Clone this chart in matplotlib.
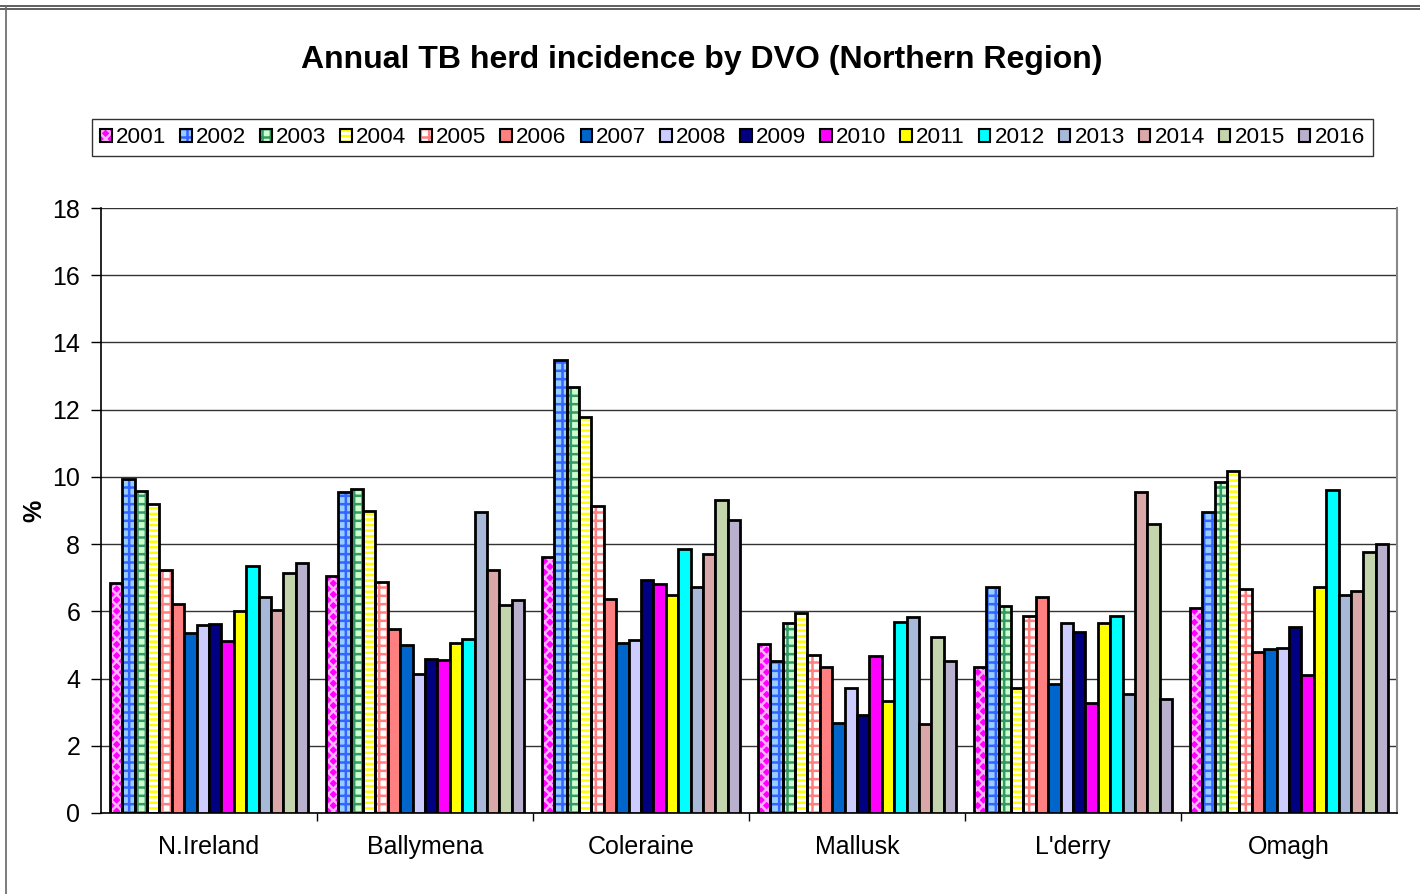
import matplotlib
matplotlib.use("Agg")
import matplotlib.pyplot as plt
from matplotlib.patches import Rectangle
from matplotlib.lines import Line2D
import numpy as np

plt.rcParams['font.family'] = ['Liberation Sans', 'DejaVu Sans']
plt.rcParams['hatch.linewidth'] = 1.8

# -------- data --------
regions = ["N.Ireland", "Ballymena", "Coleraine", "Mallusk", "L'derry", "Omagh"]
years = ["2001", "2002", "2003", "2004", "2005", "2006", "2007", "2008",
         "2009", "2010", "2011", "2012", "2013", "2014", "2015", "2016"]

# one list per region, values for 2001..2016
n_ireland = [6.84, 9.94, 9.58, 9.19, 7.23, 6.22, 5.36, 5.60, 5.62, 5.12, 6.01, 7.35, 6.43, 6.04, 7.14, 7.44]
ballymena = [7.05, 9.54, 9.64, 9.00, 6.86, 5.47, 4.99, 4.14, 4.58, 4.56, 5.05, 5.19, 8.95, 7.24, 6.20, 6.34]
coleraine = [7.61, 13.48, 12.68, 11.79, 9.13, 6.36, 5.06, 5.15, 6.93, 6.81, 6.50, 7.86, 6.71, 7.71, 9.31, 8.72]
mallusk = [5.03, 4.53, 5.64, 5.95, 4.69, 4.35, 2.68, 3.72, 2.91, 4.67, 3.34, 5.68, 5.84, 2.65, 5.25, 4.53]
lderry = [4.33, 6.73, 6.16, 3.72, 5.86, 6.44, 3.84, 5.66, 5.39, 3.28, 5.66, 5.86, 3.54, 9.55, 8.60, 3.40]
omagh = [6.11, 8.97, 9.84, 10.18, 6.67, 4.79, 4.89, 4.92, 5.54, 4.11, 6.72, 9.60, 6.50, 6.61, 7.77, 8.00]

values = np.array([n_ireland, ballymena, coleraine, mallusk, lderry, omagh])

# (face colour, hatch, hatch colour) per year
styles = [
    ('#ff00ff', 'xxx', '#ffb0ff'),
    ('#99ccff', '++', '#3366ff'),
    ('#ccffcc', '++', '#339966'),
    ('#ffffff', '---', '#ffff00'),
    ('#ffffff', '++', '#ff8080'),
    ('#ff8080', None, None),
    ('#0066cc', None, None),
    ('#ccccff', None, None),
    ('#000080', None, None),
    ('#ff00ff', None, None),
    ('#ffff00', None, None),
    ('#00ffff', None, None),
    ('#a8b8d8', None, None),
    ('#daa8a8', None, None),
    ('#c4d4ac', None, None),
    ('#b8b0cc', None, None),
]

fig = plt.figure(figsize=(14.2, 8.94), dpi=100)
ax = fig.add_axes([101 / 1420, 81 / 894, 1296 / 1420, 605 / 894])

x = np.arange(len(regions))
n = len(years)
width = 0.917 / n

handles = []
for i, yr in enumerate(years):
    pos = x - 0.917 / 2 + width * (i + 0.5)
    face, hatch, hcol = styles[i]
    if hatch:
        ax.bar(pos, values[:, i], width, color=face, hatch=hatch,
               edgecolor=hcol, linewidth=0, zorder=2)
        ax.bar(pos, values[:, i], width, fill=False, edgecolor='black',
               linewidth=2.0, zorder=3)
        h = (Rectangle((0, 0), 1, 1, facecolor=face, hatch=hatch, edgecolor=hcol, linewidth=0),
             Rectangle((0, 0), 1, 1, fill=False, edgecolor='black', linewidth=1.5))
    else:
        ax.bar(pos, values[:, i], width, color=face, edgecolor='black',
               linewidth=2.0, zorder=3)
        h = Rectangle((0, 0), 1, 1, facecolor=face, edgecolor='black', linewidth=1.5)
    handles.append(h)

ax.set_ylim(0, 18)
ax.set_xlim(-0.5, len(regions) - 0.5)
ax.set_yticks(np.arange(0, 19, 2))
ax.yaxis.grid(True, color='#333333', linewidth=1.0, zorder=0)
ax.set_axisbelow(True)

ax.set_xticks(x)
ax.set_xticklabels(regions, fontsize=18)
ax.set_xticks(np.arange(0.5, len(regions) - 0.5, 1), minor=True)
ax.tick_params(axis='x', which='major', length=0, pad=16)
ax.tick_params(axis='x', which='minor', length=6, width=1, color='black')
ax.tick_params(axis='y', labelsize=18, length=7, width=1, pad=8)

ax.spines['top'].set_visible(False)
ax.spines['right'].set_color('#888888')
ax.spines['right'].set_linewidth(1.5)
ax.spines['left'].set_linewidth(1.2)
ax.spines['bottom'].set_linewidth(1.2)

ax.set_ylabel('%', fontsize=18, fontweight='bold', labelpad=4)

fig.text(0.494, 0.933, 'Annual TB herd incidence by DVO (Northern Region)',
         ha='center', va='center', fontsize=23, fontweight='bold')

leg = fig.legend(handles, years, loc='center', bbox_to_anchor=(0.516, 0.846),
                 ncol=n, fontsize=16.2, frameon=True, fancybox=False,
                 handlelength=0.5, handleheight=0.5, handletextpad=0.2,
                 columnspacing=0.62, borderpad=0.35, edgecolor='black')
leg.get_frame().set_linewidth(1.0)

# chart area frame
fig.add_artist(Line2D([0, 1], [1 - 6 / 894, 1 - 6 / 894], color='#444444', linewidth=1.2, transform=fig.transFigure))
fig.add_artist(Line2D([0, 1], [1 - 9 / 894, 1 - 9 / 894], color='#444444', linewidth=1.2, transform=fig.transFigure))
fig.add_artist(Line2D([6 / 1420, 6 / 1420], [0, 1 - 6 / 894], color='#666666', linewidth=1.2, transform=fig.transFigure))

fig.savefig('out.png', dpi=100)
